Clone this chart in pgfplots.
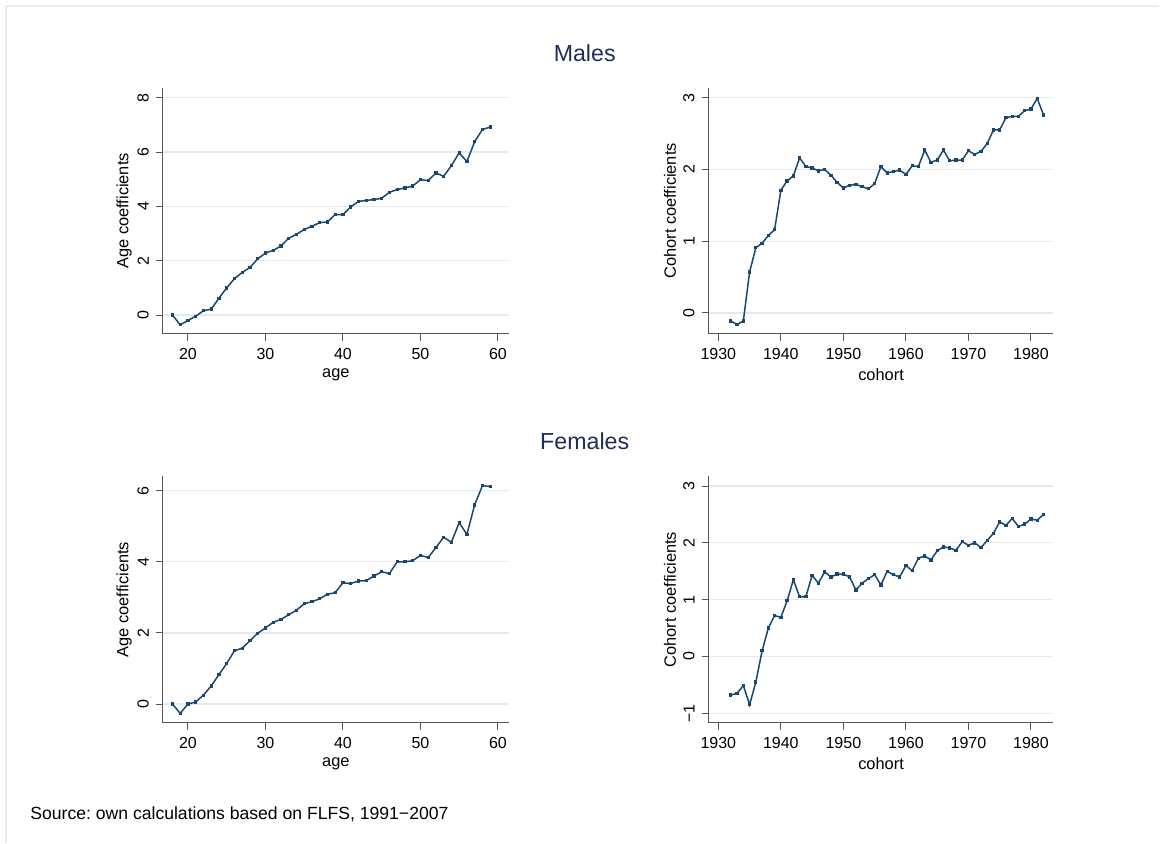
\documentclass[border=0pt]{standalone}
\usepackage{fontspec}
\setmainfont{Liberation Sans}
\usepackage{pgfplots}
\pgfplotsset{compat=1.18}
\frenchspacing

\definecolor{stnavy}{RGB}{26,71,111}
\definecolor{stgrid}{RGB}{226,234,238}
\definecolor{staxis}{RGB}{85,85,85}
\definecolor{sttitle}{RGB}{30,45,90}
\definecolor{stframe}{RGB}{232,238,240}

% 1 px of the reference = 0.5pt
\pgfplotsset{
    stata/.style={
        scale only axis,
        anchor=south west,
        axis x line*=bottom,
        axis y line*=left,
        axis line style={-, draw=staxis, line width=0.5pt},
        tick align=outside,
        tick style={draw=staxis, line width=0.5pt},
        major tick length=3.5pt,
        ymajorgrids,
        grid style={draw=stgrid, line width=0.6pt},
        tick label style={font=\fontsize{8}{9}\selectfont},
        label style={font=\fontsize{8.2}{9}\selectfont},
        /pgf/number format/assume math mode=true,
        /pgf/number format/1000 sep={},
        yticklabel style={rotate=90, anchor=south},
        xlabel style={at={(axis description cs:0.5,-0.165)}, anchor=center},
        ylabel style={at={(axis description cs:-0.112,0.5)}, anchor=center},
    },
    stline/.style={color=stnavy, line width=0.75pt,
        mark=square*, mark size=0.45pt,
        mark options={solid, fill=stnavy, draw=stnavy}},
}

\begin{document}
\begin{tikzpicture}
\path (0,0) rectangle (580pt,421.5pt);
\draw[stframe, line width=0.6pt] (3pt,0) -- (3pt,418.5pt) -- (580pt,418.5pt);

\node[text=sttitle, font=\fontsize{11.6}{13}\selectfont] at (292.5pt,395pt) {Males};
\node[text=sttitle, font=\fontsize{11.6}{13}\selectfont] at (292.5pt,201pt) {Females};
\node[anchor=west, inner sep=0pt, font=\fontsize{8.8}{10}\selectfont] at (15pt,14pt)
    {Source: own calculations based on FLFS, 1991−2007};

% Males, age
\begin{axis}[stata, at={(81.5pt,254.5pt)}, width=173pt, height=123pt,
    xmin=16.77, xmax=61.4, ymin=-0.69, ymax=8.36,
    xtick={20,30,40,50,60}, ytick={0,2,4,6,8},
    xlabel={age}, ylabel={Age coefficients}]
\addplot[stline] table {
18 0
19 -0.36
20 -0.20
21 -0.04
22 0.16
23 0.22
24 0.62
25 1.00
26 1.34
27 1.57
28 1.75
29 2.07
30 2.28
31 2.38
32 2.54
33 2.83
34 2.97
35 3.15
36 3.27
37 3.40
38 3.43
39 3.70
40 3.70
41 3.98
42 4.18
43 4.22
44 4.25
45 4.30
46 4.52
47 4.62
48 4.68
49 4.75
50 4.98
51 4.95
52 5.23
53 5.11
54 5.50
55 5.97
56 5.65
57 6.38
58 6.83
59 6.92
};
\end{axis}

% Males, cohort
\begin{axis}[stata, at={(354.5pt,254.5pt)}, width=172.5pt, height=123pt,
    xmin=1928.45, xmax=1983.6, ymin=-0.29, ymax=3.135,
    xtick={1930,1940,1950,1960,1970,1980}, ytick={0,1,2,3},
    xlabel={cohort}, ylabel={Cohort coefficients}]
\addplot[stline] table {
1932 -0.11
1933 -0.16
1934 -0.11
1935 0.57
1936 0.91
1937 0.97
1938 1.08
1939 1.16
1940 1.71
1941 1.84
1942 1.91
1943 2.16
1944 2.04
1945 2.02
1946 1.98
1947 2.00
1948 1.92
1949 1.82
1950 1.74
1951 1.78
1952 1.79
1953 1.76
1954 1.73
1955 1.80
1956 2.04
1957 1.95
1958 1.97
1959 1.99
1960 1.93
1961 2.05
1962 2.04
1963 2.27
1964 2.10
1965 2.13
1966 2.27
1967 2.12
1968 2.13
1969 2.13
1970 2.26
1971 2.21
1972 2.25
1973 2.36
1974 2.55
1975 2.55
1976 2.72
1977 2.74
1978 2.74
1979 2.82
1980 2.84
1981 2.99
1982 2.76
};
\end{axis}

% Females, age
\begin{axis}[stata, at={(81.5pt,59.85pt)}, width=173pt, height=123.3pt,
    xmin=16.77, xmax=61.4, ymin=-0.53, ymax=6.40,
    xtick={20,30,40,50,60}, ytick={0,2,4,6},
    xlabel={age}, ylabel={Age coefficients}]
\addplot[stline] table {
18 0
19 -0.26
20 0
21 0.06
22 0.25
23 0.51
24 0.83
25 1.14
26 1.50
27 1.57
28 1.78
29 1.99
30 2.14
31 2.30
32 2.38
33 2.51
34 2.64
35 2.82
36 2.88
37 2.96
38 3.09
39 3.13
40 3.41
41 3.39
42 3.46
43 3.47
44 3.60
45 3.72
46 3.67
47 4.00
48 4.00
49 4.03
50 4.18
51 4.12
52 4.40
53 4.69
54 4.55
55 5.10
56 4.77
57 5.60
58 6.14
59 6.12
};
\end{axis}

% Females, cohort
\begin{axis}[stata, at={(354.5pt,59.85pt)}, width=172.5pt, height=123.3pt,
    xmin=1928.45, xmax=1983.6, ymin=-1.17, ymax=3.17,
    xtick={1930,1940,1950,1960,1970,1980}, ytick={-1,0,1,2,3},
    yticklabels={−1,0,1,2,3},
    xlabel={cohort}, ylabel={Cohort coefficients}]
\addplot[stline] table {
1932 -0.68
1933 -0.65
1934 -0.51
1935 -0.85
1936 -0.45
1937 0.10
1938 0.50
1939 0.72
1940 0.69
1941 0.98
1942 1.35
1943 1.05
1944 1.05
1945 1.43
1946 1.29
1947 1.49
1948 1.40
1949 1.45
1950 1.45
1951 1.40
1952 1.17
1953 1.29
1954 1.37
1955 1.44
1956 1.26
1957 1.50
1958 1.44
1959 1.40
1960 1.60
1961 1.51
1962 1.73
1963 1.77
1964 1.70
1965 1.86
1966 1.93
1967 1.91
1968 1.87
1969 2.02
1970 1.96
1971 2.00
1972 1.92
1973 2.04
1974 2.17
1975 2.37
1976 2.31
1977 2.43
1978 2.29
1979 2.33
1980 2.42
1981 2.40
1982 2.50
};
\end{axis}
\end{tikzpicture}
\end{document}
